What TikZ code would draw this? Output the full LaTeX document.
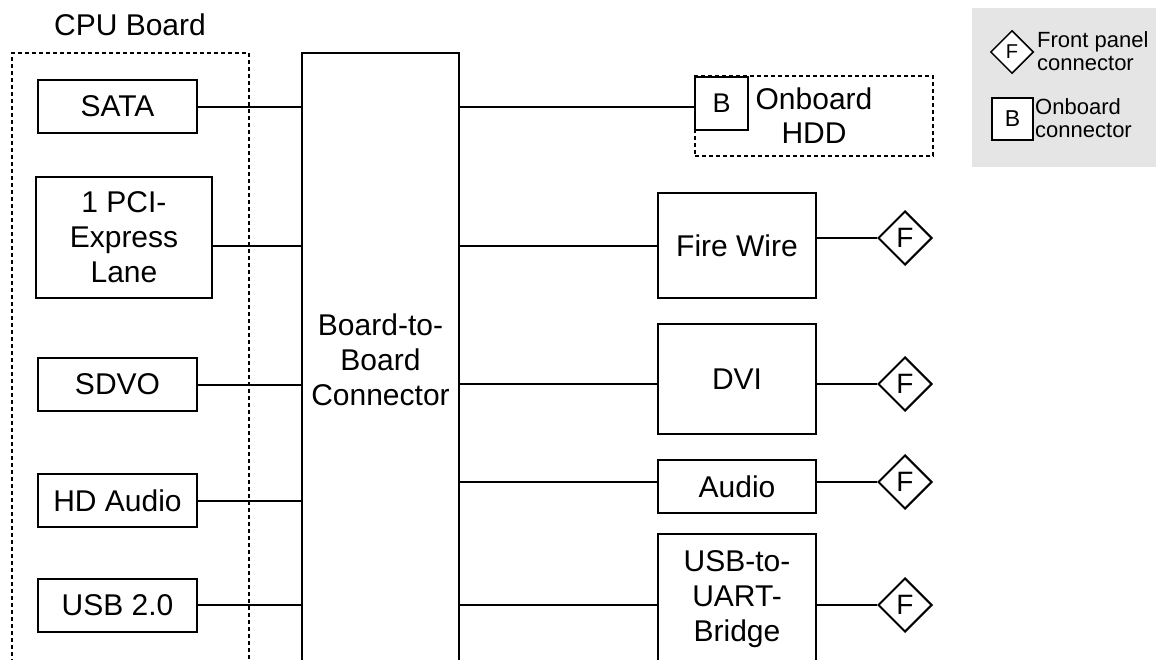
\documentclass[tikz,border=0pt]{standalone}
\usepackage{fontspec}
\setmainfont{Liberation Sans}
\usetikzlibrary{shapes.geometric}
\definecolor{bbgrey}{RGB}{229,229,229}
\tikzset{
  blkbox/.style={draw, line width=2pt, minimum width=159pt, inner sep=0pt,
    align=center, font=\fontsize{30}{35}\selectfont},
  fpconn/.style={draw, diamond, line width=2pt, minimum width=54pt,
    minimum height=54pt, inner sep=0pt, font=\fontsize{28}{28}\selectfont},
  dashbox/.style={draw, dash pattern=on 4pt off 3pt, line width=2pt, inner sep=0pt},
  link/.style={line width=2pt}
}

\begin{document}
\begin{tikzpicture}[x=1pt, y=-1pt]
    \useasboundingbox (0,0) rectangle (1156,659);
    % CPU board side
    \node[dashbox, minimum width=237pt, minimum height=614pt] (cpu) at (130.5,360) {};
    \node[font=\fontsize{30}{35}\selectfont, inner sep=0pt] (cpulbl) at (130,25) {CPU Board};
    \node[blkbox, minimum height=53pt] (sata) at (117.5,106.5) {SATA};
    \node[blkbox, minimum width=176pt, minimum height=121pt] (pcie) at (124,237.5) {1 PCI-\\Express\\Lane};
    \node[blkbox, minimum height=53pt] (sdvo) at (117.5,384.5) {SDVO};
    \node[blkbox, minimum height=53pt] (hdaud) at (117.5,500.5) {HD Audio};
    \node[blkbox, minimum height=53pt] (usbtwo) at (117.5,605) {USB 2.0};
    \node[blkbox, minimum width=157pt, minimum height=614pt] (b2b) at (380.5,360) {Board-to-\\Board\\Connector};
    \draw[link] (sata.east) -- (sata.east -| b2b.west);
    \draw[link] ([yshift=-8.5pt]pcie.east) -- ([yshift=-8.5pt]pcie.east -| b2b.west);
    \draw[link] (sdvo.east) -- (sdvo.east -| b2b.west);
    \draw[link] (hdaud.east) -- (hdaud.east -| b2b.west);
    \draw[link] (usbtwo.east) -- (usbtwo.east -| b2b.west);
    % carrier side
    \node[dashbox, minimum width=238pt, minimum height=80pt, align=center,
      font=\fontsize{30}{34}\selectfont] (hdd) at (814,116) {Onboard\\HDD};
    \node[blkbox, minimum width=53pt, minimum height=53pt, fill=white,
      font=\fontsize{27}{27}\selectfont] (hddb) at (721.5,103.5) {B};
    \node[blkbox, minimum width=158pt, minimum height=105pt] (fire) at (737,245.5) {Fire Wire};
    \node[blkbox, minimum width=158pt, minimum height=110pt] (dvi) at (737,379) {DVI};
    \node[blkbox, minimum width=158pt, minimum height=53pt] (audio) at (737,486.5) {Audio};
    \node[blkbox, minimum width=158pt, minimum height=130pt] (usbuart) at (737,599) {USB-to-\\UART-\\Bridge};
    \node[fpconn] (fpfire) at (905,238) {F};
    \node[fpconn] (fpdvi) at (905,384) {F};
    \node[fpconn] (fpaudio) at (905,482) {F};
    \node[fpconn] (fpusb) at (905,605) {F};
    \draw[link] (b2b.east |- sata.east) -- (hddb.west |- sata.east);
    \draw[link] (b2b.east |- fire.west) -- (fire.west);
    \draw[link] (b2b.east |- fpdvi.west) -- (dvi.west |- fpdvi.west);
    \draw[link] (b2b.east |- fpaudio.west) -- (audio.west |- fpaudio.west);
    \draw[link] (b2b.east |- fpusb.west) -- (usbuart.west |- fpusb.west);
    \draw[link] (fire.east |- fpfire.west) -- (fpfire.west);
    \draw[link] (dvi.east |- fpdvi.west) -- (fpdvi.west);
    \draw[link] (audio.east |- fpaudio.west) -- (fpaudio.west);
    \draw[link] (usbuart.east |- fpusb.west) -- (fpusb.west);
    % legend
    \node[fill=bbgrey, minimum width=184pt, minimum height=159pt, inner sep=0pt] (legend) at (1064,87.5) {};
    \node[fpconn, minimum width=43pt, minimum height=43pt, line width=1.5pt, fill=white,
      font=\fontsize{20}{20}\selectfont] (lgf) at (1012,52) {F};
    \node[anchor=west, align=left, inner sep=0pt, font=\fontsize{22}{23}\selectfont] (lgftxt) at (1037,51) {Front panel\\connector};
    \node[draw, line width=1.5pt, fill=white, minimum width=41pt, minimum height=42pt, inner sep=0pt,
      font=\fontsize{23}{23}\selectfont] (lgb) at (1012.5,119) {B};
    \node[anchor=west, align=left, inner sep=0pt, font=\fontsize{22}{23}\selectfont] (lgbtxt) at (1035,118) {Onboard\\connector};
  \end{tikzpicture}
\end{document}
